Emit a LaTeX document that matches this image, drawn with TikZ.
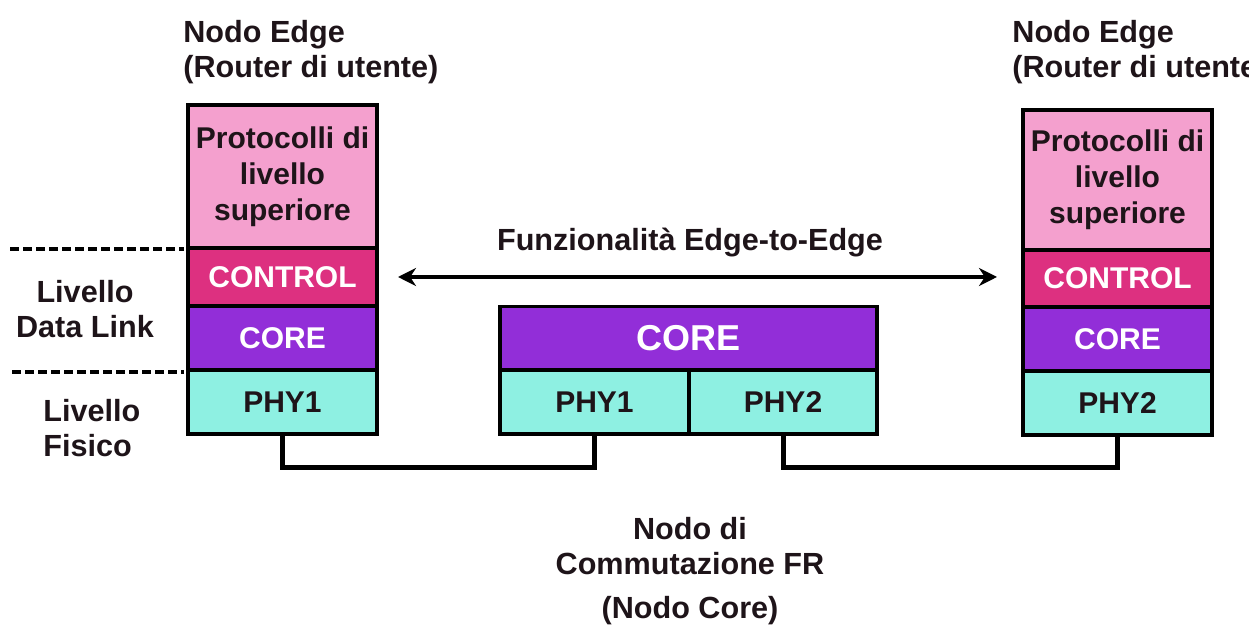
\documentclass[tikz,border=0pt]{standalone}
\usepackage{fontspec}
\setmainfont{Liberation Sans}
\usetikzlibrary{arrows.meta}
\definecolor{protofill}{RGB}{244,160,206}
\definecolor{ctrlfill}{RGB}{221,48,128}
\definecolor{corefill}{RGB}{146,46,216}
\definecolor{phyfill}{RGB}{142,240,226}
\definecolor{inktext}{RGB}{30,20,25}
\begin{document}
\begin{tikzpicture}[x=0.5pt,y=-0.5pt,
  layer/.style={draw=black,line width=1.6pt,inner sep=0pt,outer sep=0pt,
    font=\bfseries\fontsize{15}{18}\selectfont,align=center},
  proto/.style={layer,fill=protofill,text=inktext,minimum width=94.5pt},
  ctrl/.style={layer,fill=ctrlfill,text=white,minimum width=94.5pt},
  corel/.style={layer,fill=corefill,text=white,minimum width=94.5pt,minimum height=32pt},
  phy/.style={layer,fill=phyfill,text=inktext,minimum width=94.5pt,minimum height=32pt},
  label/.style={font=\bfseries\fontsize{15.3}{17.5}\selectfont,text=inktext,inner sep=0pt},
  link/.style={line width=2.5pt},
  sep/.style={line width=2pt,dash pattern=on 4.5pt off 2pt}]
\useasboundingbox (0,0) rectangle (1249,635);
\clip (0,0) rectangle (1249,635);

% left edge node
\node[proto,minimum height=71.5pt] (lproto) at (282.5,176.5) {Protocolli di\\livello\\superiore};
\node[ctrl,minimum height=29pt] (lctrl) at (282.5,277) {CONTROL};
\node[corel] (lcore) at (282.5,338) {CORE};
\node[phy] (lphy) at (282.5,402) {PHY1};

% right edge node
\node[proto,minimum height=70pt] (rproto) at (1117.5,180) {Protocolli di\\livello\\superiore};
\node[ctrl,minimum height=28.5pt] (rctrl) at (1117.5,278.5) {CONTROL};
\node[corel] (rcore) at (1117.5,339) {CORE};
\node[phy] (rphy) at (1117.5,403) {PHY2};

% core switching node
\node[corel,minimum width=188.5pt,font=\bfseries\fontsize{18}{20}\selectfont] (mcore) at (688.5,338.5) {CORE};
\node[phy] (mphy1) at (594.5,402) {PHY1};
\node[phy,minimum width=94pt] (mphy2) at (783,402) {PHY2};

% physical links
\draw[link] (lphy.south) -- ++(0,34) -| (mphy1.south);
\draw[link] (mphy2.south) -- ++(0,34) -| (rphy.south);

% layer boundaries
\coordinate (sepAa) at (10,249);
\coordinate (sepAb) at (184,249);
\coordinate (sepBa) at (12,372);
\coordinate (sepBb) at (184,372);
\draw[sep] (sepAa) -- (sepAb);
\draw[sep] (sepBa) -- (sepBb);

% edge-to-edge arrow
\coordinate (arrL) at (398,277);
\coordinate (arrR) at (997,277);
\draw[line width=2pt,{Stealth[length=9pt,width=9pt]}-{Stealth[length=9pt,width=9pt]}] (arrL) -- (arrR);
\node[label] (e2e) at (690,243) {Funzionalità Edge-to-Edge};

% labels
\node[label,anchor=west,align=left] (ledge) at (183,52) {Nodo Edge\\(Router di utente)};
\node[label,anchor=west,align=left] (redge) at (1012,52) {Nodo Edge\\(Router di utente)};
\node[label,align=center] (dl) at (85,309) {Livello\\Data Link};
\node[label,anchor=west,align=left] (fis) at (43,428) {Livello\\Fisico};
\node[label,align=center] (cn) at (690,546) {Nodo di\\Commutazione FR};
\node[label] (cnc) at (690,611) {(Nodo Core)};
\end{tikzpicture}
\end{document}
